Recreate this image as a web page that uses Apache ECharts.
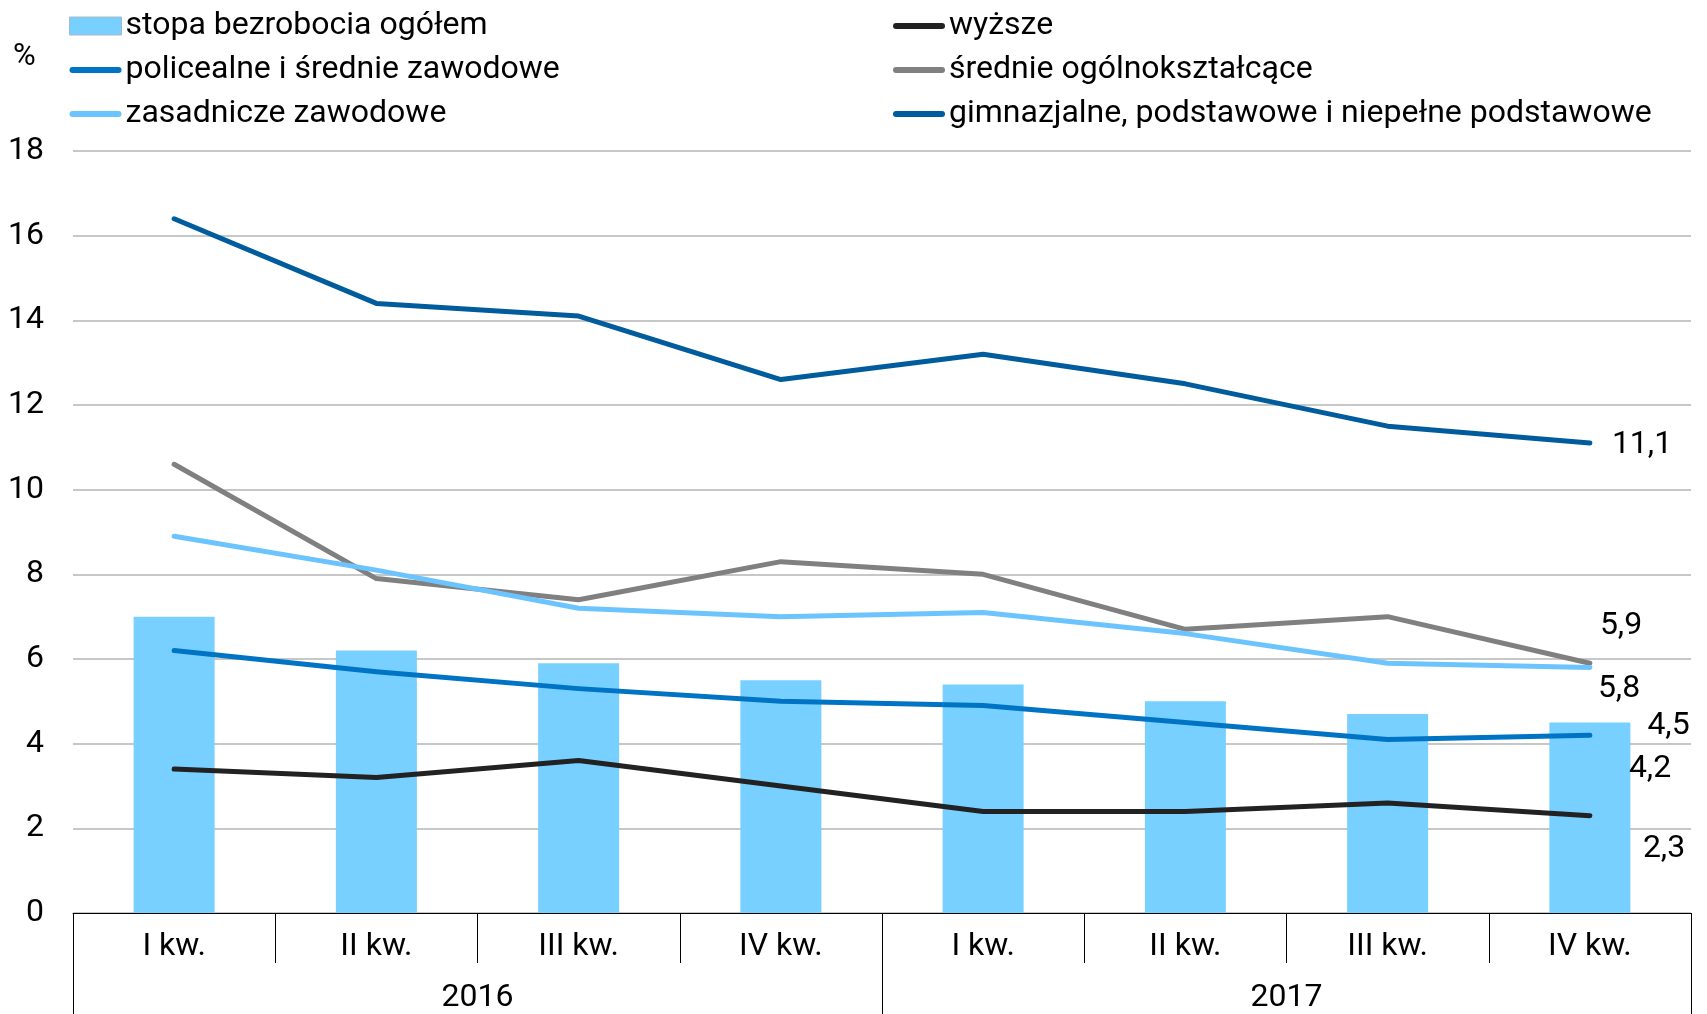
<!DOCTYPE html>
<html>
<head>
<meta charset="utf-8">
<script src="https://cdn.jsdelivr.net/npm/echarts@6/dist/echarts.min.js"></script>
<style>
  html, body { margin: 0; padding: 0; background: #fff; }
  #chart { width: 1707px; height: 1014px; }
</style>
</head>
<body>
<div id="chart"></div>
<script>
var quarters = ['I kw.', 'II kw.', 'III kw.', 'IV kw.', 'I kw.', 'II kw.', 'III kw.', 'IV kw.'];
var years = ['2016', '2017'];
var ogolem = [7.0, 6.2, 5.9, 5.5, 5.4, 5.0, 4.7, 4.5];
var wyzsze = [3.4, 3.2, 3.6, 3.0, 2.4, 2.4, 2.6, 2.3];
var policealne = [6.2, 5.7, 5.3, 5.0, 4.9, 4.5, 4.1, 4.2];
var srednieOgolne = [10.6, 7.9, 7.4, 8.3, 8.0, 6.7, 7.0, 5.9];
var zasadnicze = [8.9, 8.1, 7.2, 7.0, 7.1, 6.6, 5.9, 5.8];
var gimnazjalne = [16.4, 14.4, 14.1, 12.6, 13.2, 12.5, 11.5, 11.1];

var font = 'Roboto, "Open Sans", sans-serif';
var lineIcon = 'path://M3,0H49A3,3 0 0 1 49,6H3A3,3 0 0 1 3,0Z';

function fmt(p) {
    var v = Array.isArray(p.value) ? p.value[p.value.length - 1] : p.value;
    return String(v).replace('.', ',');
}

function lineSeries(name, data, color, offset) {
    return {
        name: name,
        type: 'line',
        data: data,
        showSymbol: false,
        symbol: 'none',
        z: 3,
        lineStyle: { color: color, width: 5, cap: 'round', join: 'round' },
        itemStyle: { color: color },
        endLabel: {
            show: true,
            distance: 0,
            offset: offset,
            align: 'left',
            verticalAlign: 'middle',
            formatter: fmt,
            fontFamily: font,
            fontSize: 32,
            color: '#000'
        }
    };
}

var chart = echarts.init(document.getElementById('chart'));
var option = {
    animation: false,
    textStyle: { fontFamily: font },
    grid: { left: 73, right: 16, top: 151, bottom: 101 },
    legend: [
        {
            left: 69, top: 10, orient: 'vertical', padding: 0,
            itemWidth: 52, itemHeight: 18, itemGap: 12,
            textStyle: { fontSize: 32, color: '#000', padding: [0, 0, 0, -1] },
            selectedMode: false,
            data: [
                { name: 'stopa bezrobocia ogółem', icon: 'rect', itemStyle: { borderColor: '#a8b8c4', borderWidth: 1 } },
                { name: 'policealne i średnie zawodowe', icon: lineIcon },
                { name: 'zasadnicze zawodowe', icon: lineIcon }
            ]
        },
        {
            left: 893, top: 10, orient: 'vertical', padding: 0,
            itemWidth: 52, itemHeight: 18, itemGap: 12,
            textStyle: { fontSize: 32, color: '#000', padding: [0, 0, 0, -1] },
            selectedMode: false,
            data: [
                { name: 'wyższe', icon: lineIcon },
                { name: 'średnie ogólnokształcące', icon: lineIcon },
                { name: 'gimnazjalne, podstawowe i niepełne podstawowe', icon: lineIcon }
            ]
        }
    ],
    graphic: [
        { type: 'text', left: 13, top: 42, style: { text: '%', fontFamily: font, fontSize: 31, fill: '#000' } }
    ],
    xAxis: [
        {
            type: 'category',
            data: quarters,
            axisLine: { lineStyle: { color: '#000', width: 1 } },
            axisTick: { show: true, interval: 0, length: 50, lineStyle: { color: '#000' } },
            axisLabel: { interval: 0, margin: 18, fontSize: 32, color: '#000' }
        },
        {
            type: 'category',
            position: 'bottom',
            data: years,
            axisLine: { show: false },
            axisTick: { show: true, interval: 0, length: 101, lineStyle: { color: '#000' } },
            axisLabel: { interval: 0, margin: 69, fontSize: 32, color: '#000' }
        }
    ],
    yAxis: {
        type: 'value',
        min: 0, max: 18, interval: 2,
        axisLine: { show: false },
        axisTick: { show: false },
        axisLabel: { margin: 29, fontSize: 32, color: '#000' },
        splitLine: { lineStyle: { color: '#b4b4b4', width: 1.5 } }
    },
    series: [
        {
            name: 'stopa bezrobocia ogółem',
            type: 'bar',
            barWidth: 81,
            z: 1,
            itemStyle: { color: '#77d0ff' },
            data: ogolem.map(function (v, i) {
                if (i !== ogolem.length - 1) return v;
                return {
                    value: v,
                    label: {
                        show: true,
                        position: ['100%', 0],
                        offset: [17, 3],
                        align: 'left',
                        verticalAlign: 'middle',
                        formatter: fmt,
                        fontFamily: font,
                        fontSize: 32,
                        color: '#000'
                    }
                };
            })
        },
        lineSeries('wyższe', wyzsze, '#222222', [53, 33]),
        lineSeries('policealne i średnie zawodowe', policealne, '#0074c4', [39, 34]),
        lineSeries('średnie ogólnokształcące', srednieOgolne, '#808080', [10, -37]),
        lineSeries('zasadnicze zawodowe', zasadnicze, '#6cc4ff', [8, 22]),
        lineSeries('gimnazjalne, podstawowe i niepełne podstawowe', gimnazjalne, '#005c9c', [22, 2])
    ]
};
chart.setOption(option);
</script>
</body>
</html>
